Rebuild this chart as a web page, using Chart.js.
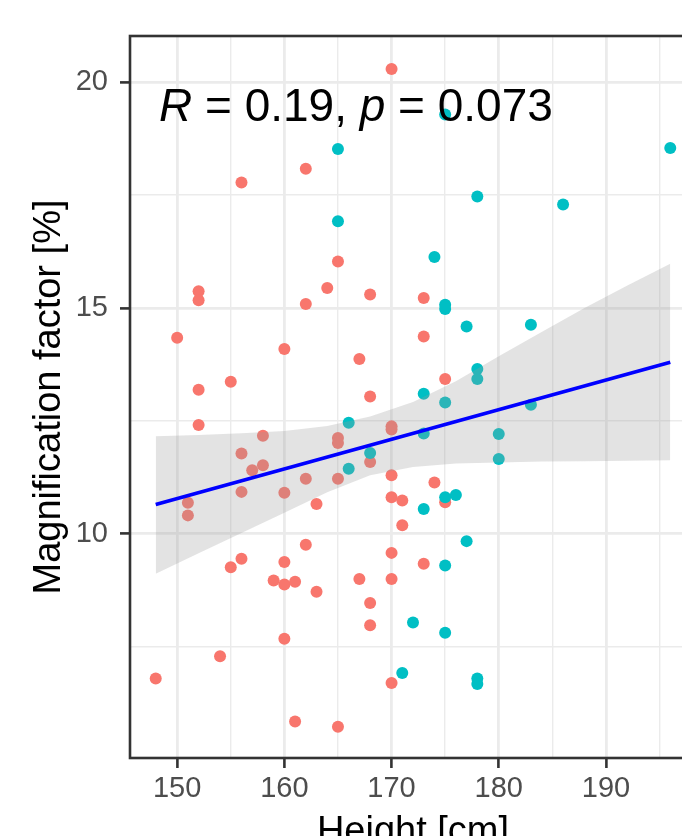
<!DOCTYPE html>
<html><head><meta charset="utf-8">
<script src="https://cdn.jsdelivr.net/npm/chart.js@4.4.1/dist/chart.umd.min.js"></script>
<style>
html,body{margin:0;padding:0;background:#fff;overflow:hidden;width:682px;height:836px}
#wrap{position:absolute;left:0;top:0;width:720px;height:880px}
</style>
</head><body><div id="wrap"><canvas id="c" width="720" height="880"></canvas></div>
<script>
// ---- data ----
const redHeight = [170,162,156,165,164,152,152,168,162,173,150,160,167,173,175,155,152,168,152,170,170,158,165,165,156,168,158,157,162,165,170,156,160,163,170,171,151,151,171,174,175,162,170,156,155,160,159,160,161,163,167,170,168,168,160,154,148,161,165,170,173];
const redMag    = [20.29,18.08,17.78,16.03,15.44,15.37,15.17,15.30,15.09,15.22,14.34,14.09,13.87,14.37,13.43,13.37,13.19,13.04,12.41,12.38,12.31,12.17,12.12,12.01,11.78,11.59,11.52,11.41,11.22,11.22,11.30,10.93,10.91,10.66,10.81,10.74,10.69,10.41,10.19,11.14,10.70,9.76,9.58,9.45,9.26,9.38,8.97,8.88,8.94,8.72,9.00,9.00,8.47,7.98,7.68,7.29,6.80,5.85,5.73,6.70,9.34];
const tealHeight = [165,165,175,196,178,186,174,175,175,177,183,178,178,173,175,183,166,173,180,168,166,180,175,176,173,177,175,172,175,171,178,178];
const tealMag    = [18.52,16.92,19.28,18.54,17.47,17.29,16.13,15.07,14.98,14.59,14.63,13.65,13.43,13.10,12.91,12.86,12.46,12.22,12.21,11.79,11.44,11.66,10.81,10.86,10.55,9.84,9.30,8.04,7.81,6.92,6.80,6.68];
const fitX = [148,196];
const fitY = [10.65,13.80];
const bandX     = [148,152,156,160,164,168,172,176,180,184,188,192,196];
const bandUpper = [12.16,12.19,12.23,12.28,12.39,12.60,12.92,13.38,13.93,14.47,15.00,15.50,15.98];
const bandLower = [9.12,9.57,10.02,10.47,10.92,11.30,11.48,11.56,11.58,11.60,11.61,11.62,11.63];
const xMajorTicks = [150,160,170,180,190];
const xMinorTicks = [155,165,175,185,195];
const yMajorTicks = [10,15,20];
const yMinorTicks = [7.5,12.5,17.5];
const xTitle = 'Height [cm]';
const yTitle = 'Magnification factor [%]';
const statR = '0.19';
const statP = '0.073';

const toPts = (xs, ys) => xs.map((x, i) => ({x: x, y: ys[i]}));
const FONT = '"Liberation Sans", Arial, Helvetica, sans-serif';

const annotationPlugin = {
  id: 'annot',
  afterDatasetsDraw(chart) {
    const ctx = chart.ctx, a = chart.chartArea;
    ctx.save();
    let x = a.left + 29, y = a.top + 85;
    const parts = [['R', true], [' = ' + statR + ', ', false], ['p', true], [' = ' + statP, false]];
    ctx.fillStyle = '#000';
    ctx.textBaseline = 'alphabetic';
    ctx.textAlign = 'left';
    for (const [t, it] of parts) {
      ctx.font = (it ? 'italic ' : '') + '46px ' + FONT;
      ctx.fillText(t, x, y);
      x += ctx.measureText(t).width;
    }
    ctx.strokeStyle = '#333333';
    ctx.lineWidth = 2.6;
    ctx.strokeRect(a.left, a.top, a.right - a.left, a.bottom - a.top);
    ctx.restore();
  }
};

const isMajor = (v, majors) => majors.some(m => Math.abs(m - v) < 1e-9);

new Chart(document.getElementById('c'), {
  type: 'scatter',
  data: {
    datasets: [
      { type: 'line', data: toPts(fitX, fitY), borderColor: '#0000FF', borderWidth: 3.6, pointRadius: 0, fill: false, order: 0 },
      { type: 'line', data: toPts(bandX, bandUpper), borderWidth: 0, borderColor: 'rgba(0,0,0,0)', pointRadius: 0, fill: '+1', backgroundColor: 'rgba(153,153,153,0.28)', order: 1 },
      { type: 'line', data: toPts(bandX, bandLower), borderWidth: 0, borderColor: 'rgba(0,0,0,0)', pointRadius: 0, fill: false, order: 1 },
      { data: toPts(redHeight, redMag), backgroundColor: '#F8766D', borderWidth: 0, pointRadius: 6, order: 3 },
      { data: toPts(tealHeight, tealMag), backgroundColor: '#00BFC4', borderWidth: 0, pointRadius: 6, order: 2 }
    ]
  },
  options: {
    responsive: false,
    devicePixelRatio: 1,
    animation: false,
    events: [],
    layout: { padding: { left: 0, top: 36, right: 24, bottom: 0 } },
    plugins: { legend: { display: false }, tooltip: { enabled: false } },
    scales: {
      x: {
        type: 'linear', min: 145.6, max: 198.4,
        afterBuildTicks: s => { s.ticks = xMajorTicks.concat(xMinorTicks).sort((a,b)=>a-b).map(v => ({value: v})); },
        afterFit: s => { s.height = 122; },
        border: { display: false },
        grid: {
          color: '#EBEBEB',
          lineWidth: c => isMajor(c.tick.value, xMajorTicks) ? 2.8 : 1.4,
          drawTicks: true, tickLength: 10, tickWidth: 2.6,
          tickColor: c => isMajor(c.tick.value, xMajorTicks) ? '#333333' : 'rgba(0,0,0,0)'
        },
        ticks: {
          autoSkip: false, maxRotation: 0, padding: 4, color: '#4D4D4D',
          font: { family: FONT, size: 29 },
          callback: v => isMajor(v, xMajorTicks) ? String(v) : ''
        },
        title: { display: true, text: xTitle, color: '#000', font: { family: FONT, size: 38 }, padding: { top: 0, bottom: 25 } }
      },
      y: {
        type: 'linear', min: 5.04, max: 21.02,
        afterBuildTicks: s => { s.ticks = yMajorTicks.concat(yMinorTicks).sort((a,b)=>a-b).map(v => ({value: v})); },
        afterFit: s => { s.width = 130; },
        border: { display: false },
        grid: {
          color: '#EBEBEB',
          lineWidth: c => isMajor(c.tick.value, yMajorTicks) ? 2.8 : 1.4,
          drawTicks: true, tickLength: 10, tickWidth: 2.6,
          tickColor: c => isMajor(c.tick.value, yMajorTicks) ? '#333333' : 'rgba(0,0,0,0)'
        },
        ticks: {
          autoSkip: false, padding: 12, color: '#4D4D4D',
          font: { family: FONT, size: 29 },
          callback: v => isMajor(v, yMajorTicks) ? String(v) : ''
        },
        title: { display: true, text: yTitle, color: '#000', font: { family: FONT, size: 38 }, padding: { top: 27, bottom: 0 } }
      }
    }
  },
  plugins: [annotationPlugin]
});
</script>
</body></html>
